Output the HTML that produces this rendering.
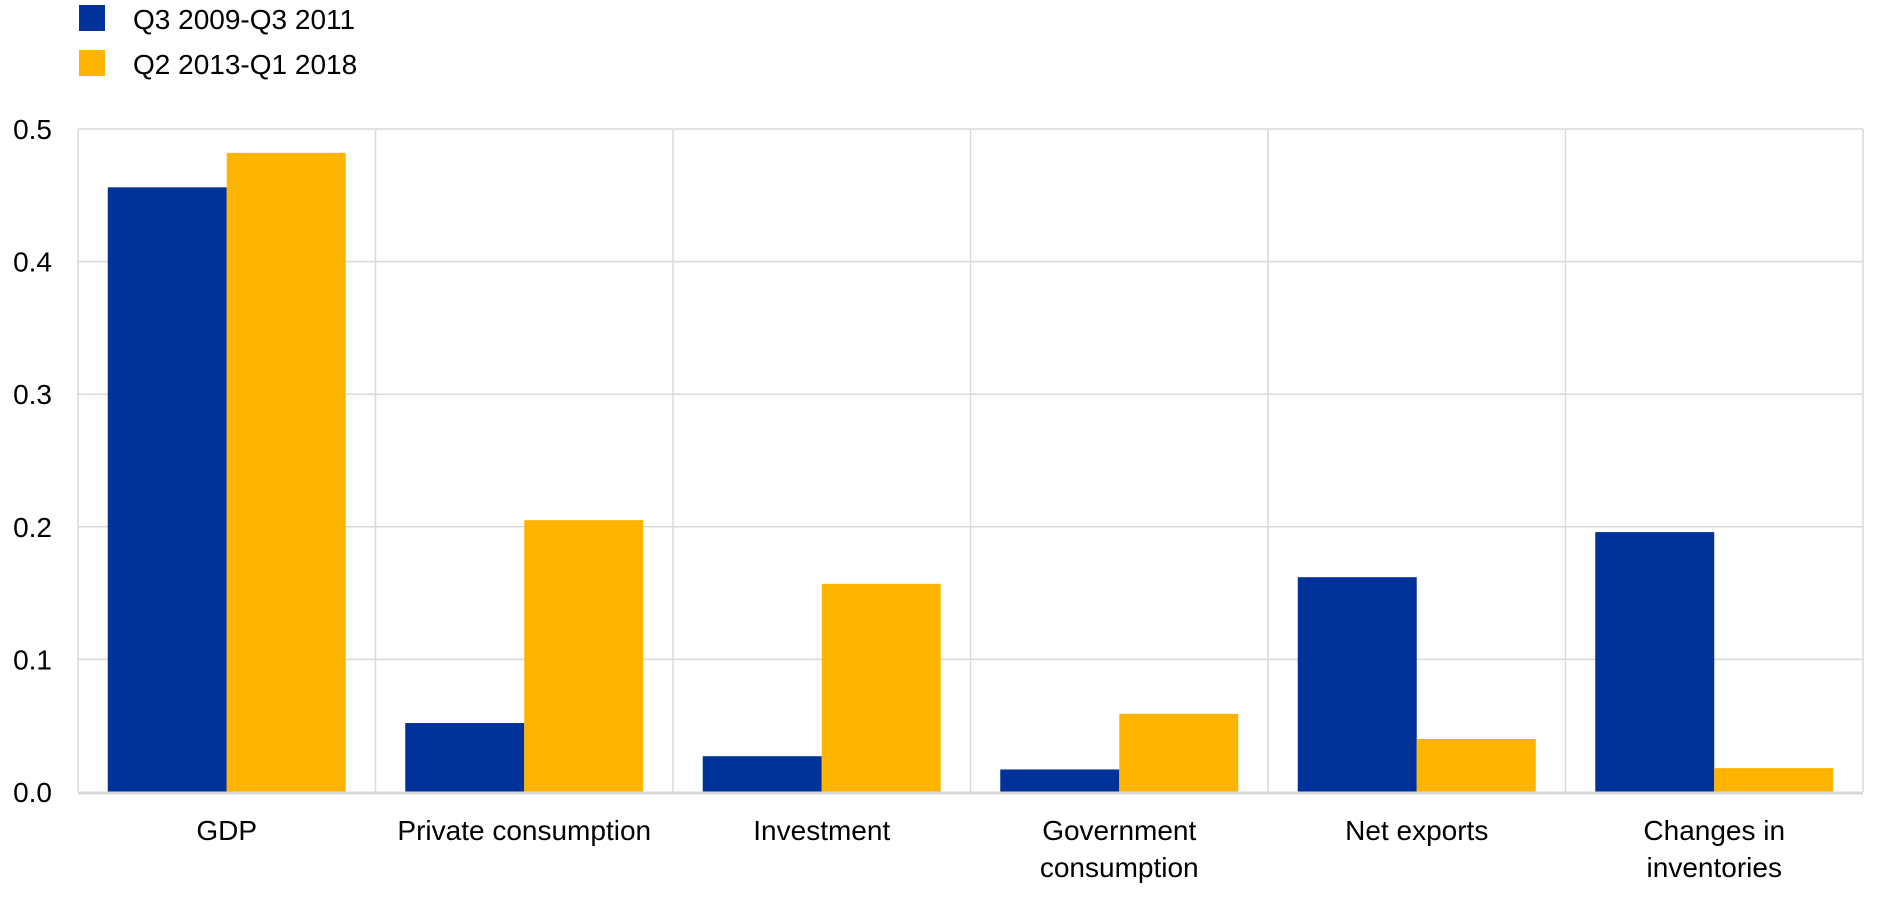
<!DOCTYPE html>
<html><head><meta charset="utf-8"><style>
html,body{margin:0;padding:0;background:#fff;}
svg{display:block;font-family:"Liberation Sans",Arial,sans-serif;}
</style></head><body>
<svg id="chart" width="1890" height="898" viewBox="0 0 1890 898">
<g>
 <g>
  <rect x="79" y="5" width="26" height="26" fill="#003299"/>
  <text x="133" y="29" font-size="28" fill="#000">Q3 2009-Q3 2011</text>
 </g>
 <g>
  <rect x="79" y="50" width="26" height="26" fill="#FFB400"/>
  <text x="133" y="74" font-size="28" fill="#000">Q2 2013-Q1 2018</text>
 </g>
</g>
<g id="grid"></g>
<g id="bars"></g>
<g id="axes"></g>
</svg>
<script>
const categories = ["GDP","Private consumption","Investment","Government consumption","Net exports","Changes in inventories"];
const series1 = [0.456,0.052,0.027,0.017,0.162,0.196];
const series2 = [0.482,0.205,0.157,0.059,0.040,0.018];
const yTicks = [0,0.1,0.2,0.3,0.4,0.5];
const yTickLabels = ["0.0","0.1","0.2","0.3","0.4","0.5"];
const labelLines = [["GDP"],["Private consumption"],["Investment"],["Government","consumption"],["Net exports"],["Changes in","inventories"]];

const NS="http://www.w3.org/2000/svg";
const L=78,R=1863,T=129,B=792,yMax=0.5;
const gw=(R-L)/categories.length;
const y=v=>B-(v/yMax)*(B-T);
const gx=i=>L+i*gw;
function mk(tag,attrs,parent){const e=document.createElementNS(NS,tag);for(const k in attrs)e.setAttribute(k,attrs[k]);parent.appendChild(e);return e;}
const grid=document.getElementById('grid'),bars=document.getElementById('bars'),axes=document.getElementById('axes');

yTicks.forEach((t,i)=>{
  if(t>0){const ln=mk('line',{x1:L,x2:R,y1:y(t),y2:y(t),stroke:'#d9d9d9','stroke-width':1.5},grid);
  
  }
  const tx=mk('text',{x:52,y:y(t)+10,'font-size':28,'text-anchor':'end',fill:'#000'},axes);
  tx.textContent=yTickLabels[i];
  
  
});
for(let i=0;i<=categories.length;i++){
  const ln=mk('line',{x1:gx(i),x2:gx(i),y1:T,y2:B,stroke:'#d9d9d9','stroke-width':1.5},grid);
  
  
}
const bw=gw*0.4,off=gw*0.1;
categories.forEach((c,i)=>{
  const b1=mk('rect',{x:gx(i)+off,y:y(series1[i]),width:bw,height:B-y(series1[i]),fill:'#003299'},bars);
  
  
  const b2=mk('rect',{x:gx(i)+off+bw,y:y(series2[i]),width:bw,height:B-y(series2[i]),fill:'#FFB400'},bars);
  
  
  const cx=gx(i)+gw/2;
  labelLines[i].forEach((s,j)=>{
    const t=mk('text',{x:cx,y:840+j*37,'font-size':28,'text-anchor':'middle',fill:'#000'},axes);
    t.textContent=s;
    
    
  });
});
const ax=mk('line',{x1:L,x2:R,y1:B+1,y2:B+1,stroke:'#d9d9d9','stroke-width':3},axes);


</script>
</body></html>
